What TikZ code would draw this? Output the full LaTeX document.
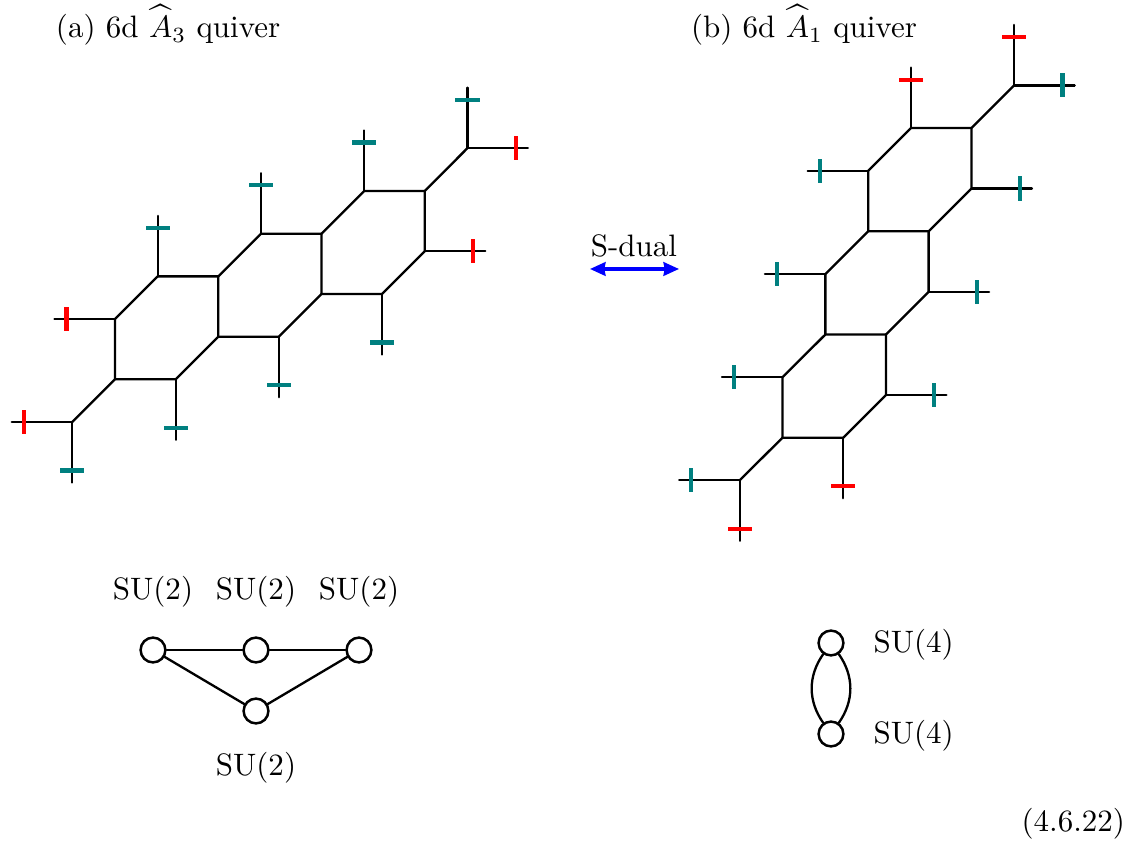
\documentclass[tikz,border=0pt]{standalone}
\usepackage{amsmath,amssymb,graphicx}
\usetikzlibrary{arrows.meta}
\newcommand{\hatA}{\rlap{\makebox[7.8pt]{\raisebox{2.2pt}{\scalebox{1.3}[1.2]{$\widehat{\hphantom{A}}$}}}}A}
\tikzset{
  web/.style={line width=0.75pt,line cap=round,line join=round},
  bar/.style={fill=#1,inner sep=0pt,outer sep=0pt,minimum width=1.4pt,minimum height=7.8pt,sloped},
  gauge/.style={draw,circle,line width=0.8pt,inner sep=0pt,minimum size=8pt,fill=white},
  lbl/.style={inner sep=0pt,outer sep=0pt,anchor=base}
}
\begin{document}
\begin{tikzpicture}[x=0.3225pt,y=-0.3225pt,>=Stealth]
\useasboundingbox (0,0) rectangle (1125,841);
% titles
\node[lbl,anchor=base west] (ta) at (56,38){(a) 6d $\hatA_3$ quiver};
\node[lbl,anchor=base west] (tb) at (691,38){(b) 6d $\hatA_1$ quiver};
% web a
\foreach \n/\x/\y in {a1/72.3/422,a2/115/379.3,a3/175.7/379.3,a4/115/319,a5/157.7/276.4,a6/218.3/276.4,a7/218.3/336.7,a8/278.8/336.7,
  a9/261/233.7,a10/321.5/233.7,a11/321.5/294,a12/382/294,a13/364.2/191,a14/424.8/191,a15/424.8/251.3,a16/467.4/148.2,
  e1/11.8/422,e2/72.3/482.5,e3/175.7/439.8,e4/54.5/319,e5/157.7/215.9,e6/278.8/397.2,e7/261/173.2,e8/382/354.5,e9/364.2/130.5,e10/485.3/251.3,e11/467.4/87.7,e12/527.9/148.2}
  \coordinate (\n) at (\x,\y);
\draw[web] (a1)--(a2)--(a3)--(a7)--(a8)--(a11)--(a12)--(a15)--(a14)--(a16);
\draw[web] (a2)--(a4)--(a5)--(a6)--(a7);
\draw[web] (a6)--(a9)--(a10)--(a11);
\draw[web] (a10)--(a13)--(a14);
\foreach \v/\e/\c in {a1/e1/red,a1/e2/teal,a3/e3/teal,a4/e4/red,a5/e5/teal,a8/e6/teal,a9/e7/teal,a12/e8/teal,a13/e9/teal,a15/e10/red,a16/e11/teal,a16/e12/red}
  \draw[web] (\v)--(\e) node[pos=0.8,bar=\c] (\e-bar){};
% web b
\foreach \n/\x/\y in {b1/739.7/480.3,b2/782.5/437.7,b3/843.2/437.7,b4/782.5/377.2,b5/825.4/334.5,b6/885.9/395,b7/885.9/334.5,b8/928.6/291.8,
  b9/825.4/274,b10/868.2/231.3,b11/928.6/231.3,b12/868.2/170.8,b13/910.9/128.1,b14/971.4/128.1,b15/971.4/188.6,b16/1014.1/85.4,
  f1/679.2/480.3,f2/739.7/540.8,f3/843.2/498.2,f4/722/377.2,f5/946.4/395,f6/989.1/291.8,f7/764.9/274,f8/807.7/170.8,f9/910.9/67.6,f10/1031.9/188.6,f11/1014.1/24.9,f12/1074.6/85.4}
  \coordinate (\n) at (\x,\y);
\draw[web] (b1)--(b2)--(b3)--(b6)--(b7)--(b8)--(b11)--(b15)--(b14)--(b16);
\draw[web] (b2)--(b4)--(b5)--(b7);
\draw[web] (b5)--(b9)--(b10)--(b11);
\draw[web] (b10)--(b12)--(b13)--(b14);
\foreach \v/\e/\c in {b1/f1/teal,b1/f2/red,b3/f3/red,b4/f4/teal,b6/f5/teal,b8/f6/teal,b9/f7/teal,b12/f8/teal,b13/f9/red,b15/f10/teal,b16/f11/red,b16/f12/teal}
  \draw[web] (\v)--(\e) node[pos=0.8,bar=\c] (\e-bar){};
% S-duality arrow
\coordinate (sl) at (590,269);
\coordinate (sr) at (679,269);
\draw[{Stealth[length=5pt,width=4.4pt,inset=0.4pt]}-{Stealth[length=5pt,width=4.4pt,inset=0.4pt]},blue,line width=1pt] (sl)--(sr);
\node[lbl] (sd) at (634,257){S-dual};
% quiver a
\node[gauge] (p1) at (153,650){};
\node[gauge] (p2) at (256,650){};
\node[gauge] (p3) at (359,650){};
\node[gauge] (p4) at (256,711){};
\draw[web] (p1)--(p2);
\draw[web] (p2)--(p3);
\draw[web] (p1)--(p4);
\draw[web] (p3)--(p4);
\node[lbl] (l1) at (153,600){SU(2)};
\node[lbl] (l2) at (256,600){SU(2)};
\node[lbl] (l3) at (359,600){SU(2)};
\node[lbl] (l4) at (256,776){SU(2)};
% quiver b
\node[gauge] (q1) at (831,643){};
\node[gauge] (q2) at (831,734){};
\draw[web] (q1) to[bend right=35] (q2);
\draw[web] (q1) to[bend left=35] (q2);
\node[lbl,anchor=base west] (m1) at (873.5,653){SU(4)};
\node[lbl,anchor=base west] (m2) at (873.5,744){SU(4)};
% equation number
\node[lbl,anchor=base east] (eq) at (1125,832){(4.6.22)};
\end{tikzpicture}
\end{document}
